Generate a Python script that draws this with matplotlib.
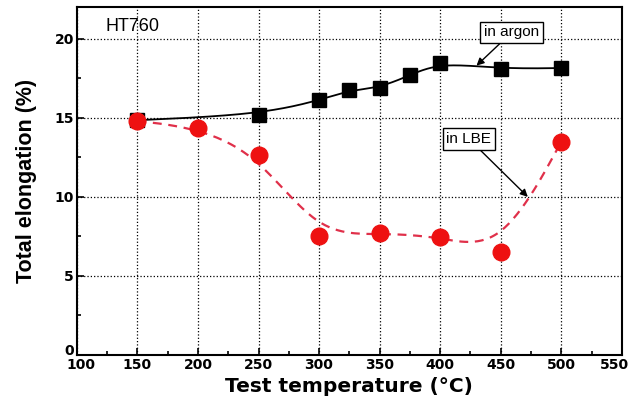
import numpy as np
import matplotlib
matplotlib.use("Agg")
import matplotlib.pyplot as plt
from matplotlib.ticker import MultipleLocator
from matplotlib.transforms import ScaledTranslation

plt.rcParams['font.family'] = ['Liberation Sans', 'DejaVu Sans']

# data
temp_argon = [150, 250, 300, 325, 350, 375, 400, 450, 500]
elong_argon = [14.85, 15.2, 16.1, 16.75, 16.9, 17.7, 18.5, 18.1, 18.15]
temp_lbe = [150, 200, 250, 300, 350, 400, 450, 500]
elong_lbe = [14.8, 14.37, 12.66, 7.55, 7.72, 7.49, 6.52, 13.48]


def bspline(x, y, n=30):
    # uniform cubic b-spline, data points as control points, ends clamped
    px = np.concatenate([[x[0]] * 2, x, [x[-1]] * 2]).astype(float)
    py = np.concatenate([[y[0]] * 2, y, [y[-1]] * 2]).astype(float)
    t = np.linspace(0, 1, n)
    b0 = (1 - t) ** 3 / 6
    b1 = (3 * t ** 3 - 6 * t ** 2 + 4) / 6
    b2 = (-3 * t ** 3 + 3 * t ** 2 + 3 * t + 1) / 6
    b3 = t ** 3 / 6
    xs, ys = [], []
    for i in range(len(px) - 3):
        xs.extend(b0 * px[i] + b1 * px[i + 1] + b2 * px[i + 2] + b3 * px[i + 3])
        ys.extend(b0 * py[i] + b1 * py[i + 1] + b2 * py[i + 2] + b3 * py[i + 3])
    return np.array(xs), np.array(ys)


fig = plt.figure(figsize=(6.3, 3.98), dpi=100)
ax = fig.add_axes([0.122, 0.108, 0.865, 0.874])

sx, sy = bspline(temp_argon, elong_argon)
ax.plot(sx, sy, color='black', lw=1.3, zorder=3)
ax.plot(temp_argon, elong_argon, 's', color='black', ms=9.5, zorder=4)

lx, ly = bspline(temp_lbe, elong_lbe)
ax.plot(lx, ly, '--', color='#e0304a', lw=1.6, dashes=(4, 3), zorder=3)
ax.plot(temp_lbe, elong_lbe, 'o', color='#ee1111', ms=12, zorder=4)

ax.set_xlim(100, 550)
ax.set_ylim(0, 22)
ax.xaxis.set_minor_locator(MultipleLocator(25))
ax.yaxis.set_minor_locator(MultipleLocator(2.5))
ax.tick_params(which='both', direction='in', pad=2)
ax.tick_params(which='major', length=5, width=1.2)
ax.tick_params(which='minor', length=3, width=1.2)
ax.set_xticks([100, 150, 200, 250, 300, 350, 400, 450, 500, 550])
ax.set_yticks([0, 5, 10, 15, 20])
for lab in ax.get_xticklabels() + ax.get_yticklabels():
    lab.set_fontweight('bold')
    lab.set_family('DejaVu Sans')
    lab.set_fontsize(10)
xl = ax.get_xticklabels()
xl[-1].set_transform(xl[-1].get_transform() + ScaledTranslation(-5 / 72, 0, fig.dpi_scale_trans))
xl[0].set_transform(xl[0].get_transform() + ScaledTranslation(3 / 72, 0, fig.dpi_scale_trans))
yl = ax.get_yticklabels()
yl[0].set_transform(yl[0].get_transform() + ScaledTranslation(0, 4 / 72, fig.dpi_scale_trans))
ax.grid(True, which='major', color='black', ls=':', lw=0.9)
for s in ax.spines.values():
    s.set_linewidth(1.5)

ax.set_xlabel('Test temperature (°C)', fontsize=14.5, fontweight='bold',
              family='DejaVu Sans', labelpad=4)
ax.set_ylabel('Total elongation (%)', fontsize=15.5, fontweight='bold', labelpad=13)

ax.text(124, 20.8, 'HT760', fontsize=13, va='center', ha='left')
box = dict(boxstyle='square,pad=0.25', fc='white', ec='black', lw=1)
ax.annotate('in argon', xy=(430, 18.3), xytext=(459, 20.4), fontsize=11,
            ha='center', va='center', bbox=box,
            arrowprops=dict(arrowstyle='-|>', color='black', lw=1, shrinkA=0, shrinkB=0))
ax.annotate('in LBE', xy=(472.4, 10.0), xytext=(423.7, 13.67), fontsize=11,
            ha='center', va='center', bbox=box,
            arrowprops=dict(arrowstyle='-|>', color='black', lw=1, shrinkA=0, shrinkB=0))

fig.savefig('out.png', dpi=100)
